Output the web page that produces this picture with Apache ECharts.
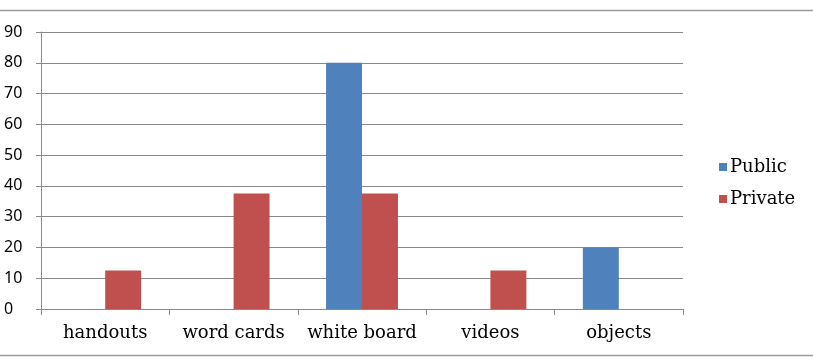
<!DOCTYPE html>
<html>
<head>
<meta charset="utf-8">
<script src="https://cdn.jsdelivr.net/npm/echarts@6/dist/echarts.min.js"></script>
<style>
  html, body { margin: 0; padding: 0; background: #fff; }
  #chart { width: 813px; height: 360px; }
</style>
</head>
<body>
<div id="chart"></div>
<script>
// categories and values
const categories = ['handouts', 'word cards', 'white board', 'videos', 'objects'];
const publicValues = [0, 0, 80, 0, 20];
const privateValues = [12.5, 37.5, 37.5, 12.5, 0];

const chart = echarts.init(document.getElementById('chart'), null, { renderer: 'canvas' });
const serif = '"DejaVu Serif", "Liberation Serif", serif';

const option = {
  animation: false,
  backgroundColor: '#fff',
  grid: { left: 41, right: 130, top: 32, bottom: 51 },
  legend: {
    orient: 'vertical',
    left: 714,
    top: 153,
    itemWidth: 8,
    itemHeight: 8,
    itemGap: 14,
    icon: 'rect',
    textStyle: { fontFamily: serif, fontSize: 18, color: '#000', padding: [0, 0, 0, -2] },
    data: ['Public', 'Private']
  },
  xAxis: {
    type: 'category',
    data: categories,
    axisLine: { lineStyle: { color: '#898989', width: 1 } },
    axisTick: { show: true, length: 6, lineStyle: { color: '#898989' } },
    axisLabel: { interval: 0, hideOverlap: false, fontFamily: serif, fontSize: 18, color: '#000', margin: 15 }
  },
  yAxis: {
    type: 'value',
    min: 0,
    max: 90,
    interval: 10,
    axisLine: { show: true, lineStyle: { color: '#898989', width: 1 } },
    axisTick: { show: true, length: 5, lineStyle: { color: '#898989' } },
    axisLabel: { fontFamily: '"Noto Sans", "Liberation Sans", sans-serif', fontSize: 16, color: '#000', margin: 16, align: 'left', padding: [0, 0, 0, -21] },
    splitLine: { lineStyle: { color: '#898989', width: 1 } }
  },
  series: [
    {
      name: 'Public',
      type: 'bar',
      data: publicValues,
      barGap: '0%',
      barCategoryGap: '44%',
      itemStyle: { color: '#4F81BD' }
    },
    {
      name: 'Private',
      type: 'bar',
      data: privateValues,
      itemStyle: { color: '#C0504D' }
    }
  ],
  graphic: [
    { type: 'line', shape: { x1: 0, y1: 10.5, x2: 813, y2: 10.5 }, style: { stroke: '#9a9a9a', lineWidth: 1.5 } },
    { type: 'line', shape: { x1: 0, y1: 355.5, x2: 813, y2: 355.5 }, style: { stroke: '#9a9a9a', lineWidth: 1.5 } }
  ]
};
chart.setOption(option);
</script>
</body>
</html>
